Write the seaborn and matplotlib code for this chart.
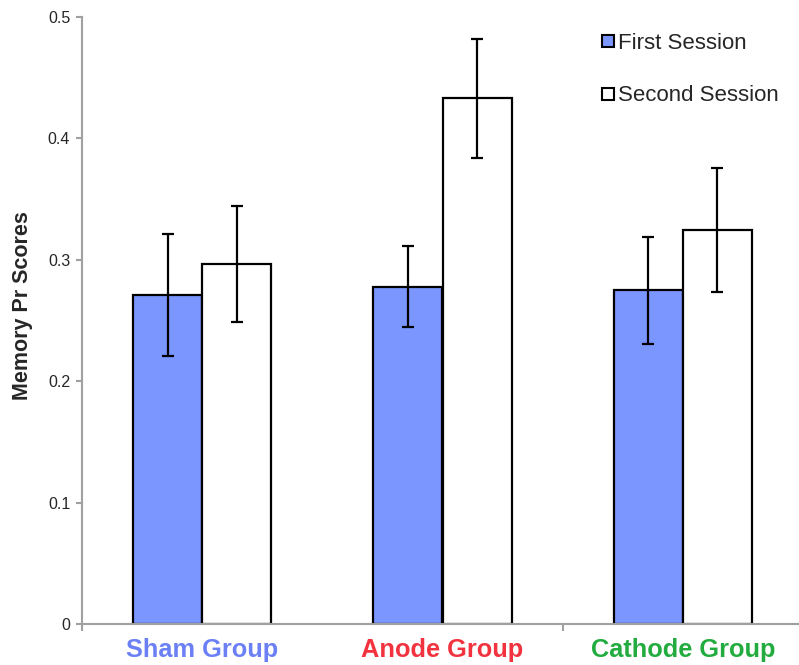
import matplotlib
matplotlib.use("Agg")
import matplotlib.pyplot as plt
import seaborn as sns
import pandas as pd
import numpy as np
from matplotlib.lines import Line2D

groups = ["Sham Group", "Anode Group", "Cathode Group"]
sessions = ["First Session", "Second Session"]
first_vals = [0.271, 0.278, 0.275]
first_err = [0.050, 0.033, 0.044]
second_vals = [0.2965, 0.433, 0.3245]
second_err = [0.048, 0.049, 0.051]
group_colors = ["#6b80f5", "#f2333f", "#22ac3f"]
yticks = [0, 0.1, 0.2, 0.3, 0.4, 0.5]
ytick_labels = ["0", "0.1", "0.2", "0.3", "0.4", "0.5"]

sns.set_style("white")
plt.rcParams["font.family"] = ["Liberation Sans", "DejaVu Sans"]

df = pd.DataFrame({
    "group": groups * 2,
    "session": [sessions[0]] * 3 + [sessions[1]] * 3,
    "value": first_vals + second_vals,
    "err": first_err + second_err,
})

fig = plt.figure(figsize=(7.99, 6.65), dpi=100)
ax = fig.add_axes([82 / 799, 41 / 665, 721 / 799, 607 / 665])

palette = {sessions[0]: "#7b96ff", sessions[1]: "#ffffff"}
sns.barplot(data=df, x="group", y="value", hue="session", order=groups,
            hue_order=sessions, palette=palette, width=0.575, gap=0,
            errorbar=None, edgecolor="black", linewidth=1.6, ax=ax,
            saturation=1, legend=False)

# error bars at bar centres
for cont, s in zip(ax.containers, sessions):
    sub = df[df.session == s].set_index("group").loc[groups]
    xs = [p.get_x() + p.get_width() / 2 for p in cont.patches]
    ax.errorbar(xs, sub["value"].values, yerr=sub["err"].values, fmt="none",
                ecolor="black", elinewidth=1.6, capsize=4.5, capthick=1.6, zorder=5)

ax.set_ylim(0, 0.5)
ax.set_xlim(-0.5, 2.5)
ax.set_yticks(yticks)
ax.set_yticklabels(ytick_labels, fontsize=11.5)
ax.set_ylabel("Memory Pr Scores", fontsize=15.5, fontweight="bold")
ax.yaxis.set_label_coords(-0.068, 0.524)
ax.set_xlabel("")
ax.set_xticks(range(3))
ax.set_xticklabels(groups, fontsize=18.3, fontweight="bold")
for lab, c in zip(ax.get_xticklabels(), group_colors):
    lab.set_color(c)
ax.tick_params(axis="x", length=0, pad=10)
ax.tick_params(axis="y", left=True, length=4.5, color="#a0a0a0", width=1.5, pad=4)
ax.set_xticks([-0.5, 1.5], minor=True)
ax.tick_params(axis="x", which="minor", bottom=True, length=5, color="#a0a0a0", width=1.5)

for side in ["top", "right"]:
    ax.spines[side].set_visible(False)
for side in ["left", "bottom"]:
    ax.spines[side].set_color("#a0a0a0")
    ax.spines[side].set_linewidth(1.5)

handles = [Line2D([0], [0], marker="s", linestyle="none", markersize=9,
                  markerfacecolor=palette[s], markeredgecolor="black",
                  markeredgewidth=1.5) for s in sessions]
fig.legend(handles, sessions, loc="upper left", bbox_to_anchor=(590 / 799, 1 - 24 / 665),
           frameon=False, fontsize=16, handletextpad=0.05, labelspacing=1.42,
           borderaxespad=0, handlelength=0.8)

fig.savefig("out.png", dpi=100)
